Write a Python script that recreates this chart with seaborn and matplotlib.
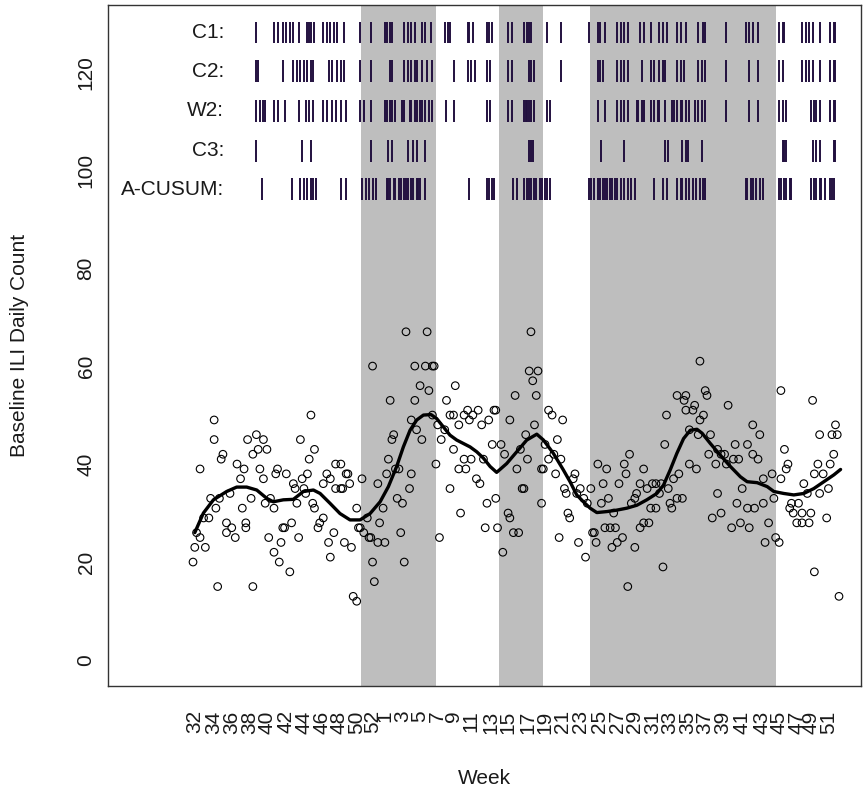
import matplotlib
matplotlib.use("Agg")
import matplotlib.pyplot as plt
import seaborn as sns
import pandas as pd

# ---- daily baseline ILI counts (observation index, count) ----
day = [1, 2, 3, 5, 5, 7, 8, 10, 11, 13, 13, 14, 15, 16, 17, 18, 20, 20, 22, 23, 25, 26, 28, 29, 30, 31, 31, 32, 34, 35,
       35, 37, 38, 39, 41, 41, 42, 43, 44, 45, 47, 47, 48, 49, 50, 51, 52, 53, 54, 56, 57, 58, 59, 60, 61, 62, 63, 64,
       65, 66, 67, 68, 69, 70, 70, 72, 73, 75, 75, 77, 78, 79, 79, 81, 82, 82, 85, 85, 86, 87, 88, 89, 90, 91, 92, 94,
       94, 95, 96, 97, 98, 100, 101, 102, 103, 103, 104, 106, 106, 107, 109, 110, 111, 112, 113, 114, 115, 116, 117,
       118, 119, 120, 121, 122, 124, 125, 125, 127, 127, 128, 130, 131, 133, 134, 135, 137, 137, 138, 139, 140, 141,
       142, 144, 145, 147, 147, 149, 149, 150, 152, 152, 153, 155, 155, 156, 157, 158, 159, 160, 162, 163, 164, 165,
       166, 167, 168, 169, 171, 172, 173, 173, 174,
       176, 177, 178, 180, 181, 181, 183, 184, 185, 186, 187, 188, 189, 190, 191, 192, 193, 194, 195, 196, 197, 199,
       199, 200, 201, 203, 203, 205, 206, 207, 208, 209, 210, 211, 212, 213, 214, 215, 217, 218, 219, 220, 221, 223,
       224, 225, 227, 228, 229, 230, 231, 233, 234, 235, 236, 237, 238, 239, 240, 241, 242, 243, 245, 246, 247, 248,
       249, 250, 252, 252, 253, 255, 255, 257, 257, 259, 260, 261, 262, 264, 264, 266, 267, 268, 269, 270, 271, 272,
       273, 274, 276, 276, 277, 279, 280, 281, 281, 283, 283, 285, 286, 287, 288, 289, 289, 291, 292, 293, 294, 295,
       296, 298, 299, 299, 301, 301, 303, 304, 305, 307, 308, 309, 310, 311, 312, 313, 316, 316, 317, 319, 319, 320,
       322, 323, 325, 325, 326, 328, 330, 331, 332, 334, 335, 335, 337, 338, 339, 340, 341, 342, 344, 345, 347, 347,
       348, 350, 351, 352, 353, 354, 354, 356, 357, 357, 359, 361, 362, 363, 364, 365, 366, 367, 368]
count = [20, 23, 26, 25, 39, 29, 23, 29, 33, 45, 49, 31, 15, 33, 41, 42, 28, 26, 34, 27, 25, 40, 37, 31, 39, 28, 27, 45,
         33, 15, 42, 46, 43, 39, 45, 37, 32, 43, 25, 33, 31, 22, 38, 39, 20, 24, 27, 27, 38, 18, 28, 36, 35, 32, 25, 45,
         37, 35, 34, 38, 41, 50, 32, 43, 31, 27, 28, 29, 36, 38, 24, 37, 21, 26, 35, 40, 40, 35, 35, 24, 38, 38, 36, 23,
         13, 31, 12, 27, 27, 37, 26, 29, 25, 25, 60, 20, 16, 36, 24, 28, 31, 24, 38, 41, 53, 45, 46, 39, 33, 39, 26, 32,
         20, 67, 35, 38, 49, 53, 60, 47, 56, 45, 60, 67, 55, 50, 60, 60, 40, 48, 25, 45, 47, 53, 35, 50, 50, 43, 56, 48,
         39, 30, 41, 50, 39, 51, 49, 41, 50, 37, 51, 36, 48, 41, 27, 32, 49, 44, 51, 51, 33, 27,
         44, 22, 42, 30, 29, 49, 26, 54, 39, 26, 43, 35, 35, 46, 41, 59, 67, 57, 48, 54, 59, 32, 39, 39, 44, 41, 51, 50,
         42, 38, 45, 25, 41, 49, 35, 34, 30, 29, 37, 38, 34, 24, 35, 33, 21, 32, 35, 26, 26, 24, 40, 32, 36, 27, 39, 33,
         27, 23, 30, 27, 24, 36, 25, 40, 38, 15, 42, 32, 33, 23, 34, 27, 36, 39, 28, 35, 28, 31, 36, 36, 31, 34, 36, 19,
         44, 50, 35, 32, 31, 37, 33, 54, 38, 33, 53, 54, 51, 47, 40, 51, 52, 39, 46, 61, 49, 50, 55, 54, 42, 46, 29, 40,
         43, 34, 42, 30, 42, 40, 52, 27, 41, 44, 32, 41, 28, 35, 44, 31, 27, 48, 42, 31, 41, 46, 37, 32, 24, 28, 38, 33,
         25, 24, 55, 37, 43, 39, 40, 31, 32, 30, 28, 32, 28, 30, 36, 34, 28, 30, 53, 18, 38, 40, 34, 46, 38, 29, 35, 40,
         46, 42, 48, 46, 13]

# ---- smoothed baseline curve ----
smooth_day = [2, 6.9, 12.6, 20.1, 25.8, 31.5, 37.2, 42.9, 46.6, 52.3, 58.0, 63.7, 69.4, 73.2, 78.8, 84.5, 90.2, 95.9,
              101.6, 107.3, 112.0, 116.7, 120.5, 124.3, 128.1, 131.9, 136.2, 139.4, 143.2, 147.0, 150.8, 154.6, 158.4,
              162.2, 166.0, 169.8, 173.5, 179.2, 184.9, 190.6, 196.3, 200.1, 205.7, 211.4, 215.2, 219.0, 222.8, 226.6,
              230.4, 236.1, 241.8, 247.5, 253.2, 258.8, 264.5, 268.3, 272.1, 275.9, 279.7, 283.5, 287.3, 290.2, 294.9,
              300.6, 306.3, 312.0, 315.8, 321.5, 327.2, 331.0, 336.6, 342.3, 348.0, 353.7, 359.4, 365.1, 368.9]
smooth_val = [26.0, 30.0, 32.7, 34.4, 35.3, 35.3, 34.7, 33.0, 32.3, 32.7, 32.8, 34.4, 34.7, 34.0, 32.0, 29.9, 28.6,
              28.6, 29.9, 32.3, 35.4, 39.5, 43.5, 46.9, 49.0, 50.0, 50.1, 49.3, 47.6, 45.9, 44.9, 44.2, 43.5, 42.5,
              41.2, 39.5, 38.3, 40.1, 42.5, 44.9, 46.1, 44.9, 42.2, 38.8, 36.4, 33.7, 32.3, 31.0, 30.1, 30.3, 30.6,
              31.0, 31.6, 32.7, 34.0, 35.7, 38.8, 42.2, 45.2, 46.9, 47.1, 46.3, 44.2, 41.8, 39.5, 37.4, 36.4, 36.2,
              35.4, 34.4, 34.0, 33.7, 34.0, 35.0, 36.4, 37.8, 38.9]

# ---- shaded outbreak periods (observation index) ----
band_start = [96.3, 174.9, 226.6]
band_end = [138.9, 199.7, 332.3]

# ---- alarm days per detection method ----
alarm_c1 = [37, 47, 49, 52, 54, 56, 58, 61, 66, 67, 68, 70, 75, 77, 79, 81, 83, 87, 96, 102, 110, 111, 113, 114, 121,
            123, 125, 127, 131, 133, 136, 144, 146, 147, 157, 158, 160, 168, 169, 171, 180, 182, 189, 191, 192, 193,
            202, 210, 226, 231, 232, 235, 242, 244, 246, 248, 255, 257, 261, 266, 268, 270, 276, 278, 281, 288, 291,
            292, 304, 315, 317, 319, 322, 334, 336, 337, 347, 349, 351, 353, 357, 363, 365, 366]
alarm_c2 = [37, 38, 52, 58, 60, 62, 64, 66, 68, 69, 78, 80, 83, 85, 87, 96, 102, 113, 114, 121, 123, 125, 127, 128, 131,
            134, 137, 149, 157, 159, 161, 168, 170, 180, 182, 192, 193, 195, 210, 231, 232, 234, 242, 244, 246, 248,
            256, 261, 263, 266, 268, 269, 276, 278, 280, 288, 290, 292, 304, 317, 322, 334, 336, 347, 349, 351, 353,
            357, 363, 365, 366]
alarm_w2 = [37, 39, 41, 42, 47, 49, 53, 61, 65, 67, 69, 75, 77, 80, 82, 85, 88, 96, 98, 102, 110, 111, 113, 114, 116,
            120, 121, 124, 125, 127, 128, 130, 131, 133, 135, 137, 145, 149, 168, 170, 180, 182, 189, 190, 191, 192,
            193, 195, 202, 204, 231, 235, 242, 244, 246, 248, 253, 254, 256, 257, 261, 263, 265, 266, 269, 273, 274,
            276, 278, 279, 281, 283, 286, 288, 290, 292, 304, 317, 322, 334, 336, 338, 352, 354, 355, 357, 363, 365,
            366]
alarm_c3 = [37, 63, 68, 102, 112, 114, 123, 126, 128, 133, 192, 193, 194, 233, 246, 269, 271, 279, 281, 282, 290, 336,
            337, 338, 353, 355, 357, 365, 366]
alarm_acusum = [40, 57, 62, 64, 66, 68, 69, 71, 85, 88, 97, 99, 101, 103, 105, 111, 112, 113, 115, 116, 118, 119, 121,
                122, 123, 125, 126, 128, 129, 130, 133, 158, 168, 169, 171, 172, 183, 185, 189, 191, 192, 193, 195, 196,
                198, 199, 201, 202, 204, 226, 227, 229, 231, 232, 234, 235, 236, 238, 239, 241, 242, 244, 246, 248,
                250, 252, 263, 268, 270, 276, 278, 279, 281, 283, 285, 287, 289, 291, 292, 315, 316, 318, 319, 321,
                323, 325, 334, 335, 337, 338, 340, 341, 352, 354, 355, 357, 358, 360, 363, 364, 365]

method_names = ["C1:", "C2:", "W2:", "C3:", "A-CUSUM:"]
method_alarms = [alarm_c1, alarm_c2, alarm_w2, alarm_c3, alarm_acusum]

# ---- week labels on the x axis ----
week_pos = [2, 13, 23, 33, 43, 54, 64, 74, 84, 94, 103, 110, 120, 130, 140, 149, 159, 170, 180, 191, 201, 211, 221,
            232, 242, 252, 262, 272, 282, 292, 302, 313, 324, 334, 344, 352, 362]
week_labels = ["32", "34", "36", "38", "40", "42", "44", "46", "48", "50", "52", "1", "3", "5", "7", "9", "11", "13",
               "15", "17", "19", "21", "23", "25", "27", "29", "31", "33", "35", "37", "39", "41", "43", "45", "47",
               "49", "51"]

sns.set_theme(style="white")
plt.rcParams["font.family"] = ["Liberation Sans", "DejaVu Sans"]

W, H = 863, 792
fig = plt.figure(figsize=(W / 100, H / 100), dpi=100)
ax = fig.add_axes([108 / W, 1 - 686 / H, (861 - 108) / W, (686 - 5) / H])

for s, e in zip(band_start, band_end):
    ax.axvspan(s, e, color="#BEBEBE", lw=0, zorder=0)

pts = pd.DataFrame({"day": day, "count": count})
sns.scatterplot(data=pts, x="day", y="count", ax=ax, marker="o", s=30,
                facecolors="none", edgecolor="black", linewidth=0.8, zorder=2)

curve = pd.DataFrame({"day": smooth_day, "value": smooth_val})
sns.lineplot(data=curve, x="day", y="value", ax=ax, color="black", linewidth=2.4,
             sort=False, zorder=3)

# alarm strips above the series
row_y = [128.1, 120.2, 112.1, 103.9, 96.1]
for name, alarms, yc in zip(method_names, method_alarms, row_y):
    ax.vlines(alarms, yc - 2.2, yc + 2.2, color="#22103f", lw=1.4, zorder=4)
    ax.text(18.6, yc, name, ha="right", va="center", fontsize=15, color="#1a1a1a")

ax.set_xlim(-47.3, 380.5)
ax.set_ylim(-5.3, 133.7)
ax.set_xticks(week_pos)
ax.set_xticklabels(week_labels, rotation=90)
ax.set_yticks(range(0, 121, 20))
ax.set_yticklabels([str(v) for v in range(0, 121, 20)], rotation=90, va="center")

ax.tick_params(axis="both", direction="out", length=8.5, width=1, color="#333333",
               labelsize=15, labelcolor="#1a1a1a")
ax.tick_params(axis="x", pad=9)
ax.tick_params(axis="y", pad=0.5)

for sp in ax.spines.values():
    sp.set_visible(True)
    sp.set_color("#333333")
    sp.set_linewidth(1.0)

ax.set_xlabel("Week", fontsize=15, color="#1a1a1a")
ax.set_ylabel("Baseline ILI Daily Count", fontsize=15, color="#1a1a1a")
ax.xaxis.set_label_coords(0.5, -(778 - 686) / (686 - 5))
ax.xaxis.label.set_va("center")
ax.yaxis.set_label_coords((20 - 108) / (861 - 108), 0.5)
ax.yaxis.label.set_va("center")

fig.savefig("out.png", dpi=100)
